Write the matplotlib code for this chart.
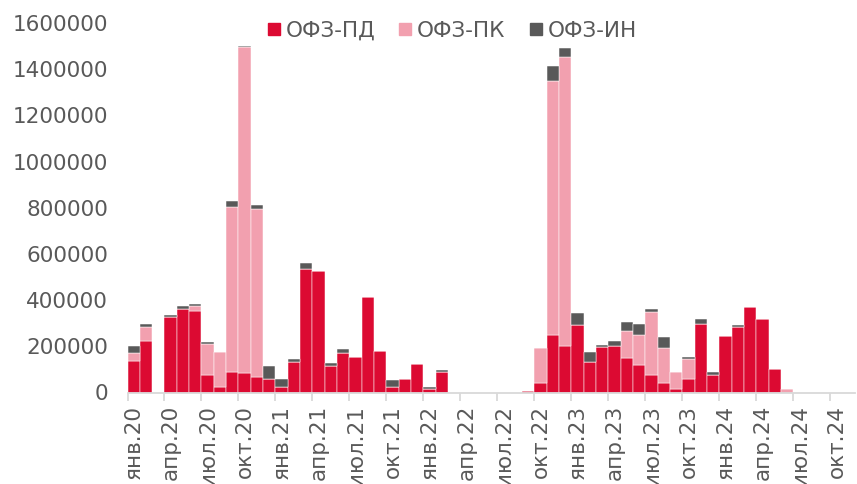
import matplotlib
matplotlib.use("Agg")
import matplotlib.pyplot as plt
from matplotlib.lines import Line2D
import numpy as np

# Monthly placements, Jan 2020 – Nov 2024
month_names = ["янв", "фев", "мар", "апр", "май", "июн",
               "июл", "авг", "сен", "окт", "ноя", "дек"]
years = [20, 21, 22, 23, 24]
months = [f"{m}.{y}" for y in years for m in month_names][:59]

ofz_pd = [138000, 222000, 0, 328000, 360000, 354000, 76000, 25000, 87000, 84000, 69000, 58000,
          25000, 133000, 533000, 525000, 115000, 170000, 152000, 415000, 178000, 25000, 57000, 123000,
          14000, 89000, 0, 0, 0, 0, 0, 0, 6500, 43000, 249000, 203000,
          293000, 131000, 195000, 200000, 149000, 119000, 74000, 40000, 14000, 57000, 298000, 77000,
          246000, 282000, 369000, 317000, 100000, 0, 0, 0, 0, 0, 0]
ofz_pk = [34000, 63000, 0, 0, 0, 20000, 134000, 150000, 717000, 1411000, 726000, 0,
          0, 0, 0, 0, 0, 0, 0, 0, 0, 0, 0, 0,
          0, 0, 0, 0, 0, 0, 0, 0, 0, 148000, 1101000, 1250000,
          0, 0, 0, 0, 118000, 128000, 276000, 153000, 73000, 87000, 0, 0,
          0, 0, 0, 0, 0, 16000, 0, 0, 0, 0, 0]
ofz_in = [29000, 10000, 0, 7000, 13000, 10000, 10000, 0, 25000, 7000, 18000, 56000,
          32000, 13000, 26000, 0, 14000, 20000, 0, 0, 0, 28000, 0, 0,
          10000, 7000, 0, 0, 0, 0, 0, 0, 0, 0, 65000, 40000,
          53000, 46000, 10000, 24000, 38000, 49000, 10000, 49000, 0, 9000, 22000, 10000,
          0, 9000, 0, 0, 0, 0, 0, 0, 0, 0, 0]
series_names = ["ОФЗ-ПД", "ОФЗ-ПК", "ОФЗ-ИН"]

c_pd = "#DC0A32"
c_pk = "#F2A0AF"
c_in = "#595959"
text_c = "#595959"
axis_c = "#D9D9D9"

fig = plt.figure(figsize=(8.57, 4.84), dpi=100)
ax = fig.add_axes([127.5 / 857, 1 - 392.5 / 484, (855 - 127.5) / 857, (392.5 - 23) / 484])

n = len(months)
x = np.arange(n)
pd_a = np.array(ofz_pd, dtype=float)
pk_a = np.array(ofz_pk, dtype=float)
in_a = np.array(ofz_in, dtype=float)

kw = dict(width=1.0, align="edge", edgecolor="white", linewidth=0.35)
ax.bar(x, pd_a, color=c_pd, **kw)
ax.bar(x, pk_a, bottom=pd_a, color=c_pk, **kw)
ax.bar(x, in_a, bottom=pd_a + pk_a, color=c_in, **kw)

ax.set_xlim(0, n)
ax.set_ylim(0, 1600000)

for s in ["top", "right", "left"]:
    ax.spines[s].set_visible(False)
ax.spines["bottom"].set_color(axis_c)
ax.spines["bottom"].set_linewidth(1.3)

fs = 15.5
ax.set_yticks(np.arange(0, 1600001, 200000))
ax.set_yticklabels([f"{v}" for v in range(0, 1600001, 200000)])
ax.tick_params(axis="y", length=0, pad=14, labelsize=fs, labelcolor=text_c)

# tick marks at quarter boundaries, labels centred on the month
ax.set_xticks(np.arange(0, n + 1, 3))
ax.set_xticklabels([])
ax.tick_params(axis="x", which="major", length=6, width=1.3, color=axis_c)
label_idx = np.arange(0, n, 3)
ax.set_xticks(label_idx + 0.5, minor=True)
ax.set_xticklabels([months[i] for i in label_idx], minor=True, rotation=90)
ax.tick_params(axis="x", which="minor", length=0, pad=9, labelsize=fs, labelcolor=text_c)

handles = [Line2D([], [], marker="s", linestyle="none", markersize=8.4,
                  markerfacecolor=c, markeredgecolor=c) for c in (c_pd, c_pk, c_in)]
leg = fig.legend(handles, series_names, loc="center", bbox_to_anchor=(452 / 857, 1 - 31 / 484),
                 ncol=3, frameon=False, fontsize=fs, handlelength=0.6, handletextpad=0.25,
                 columnspacing=1.1, borderpad=0)
for t in leg.get_texts():
    t.set_color(text_c)

fig.savefig("out.png", dpi=100)
